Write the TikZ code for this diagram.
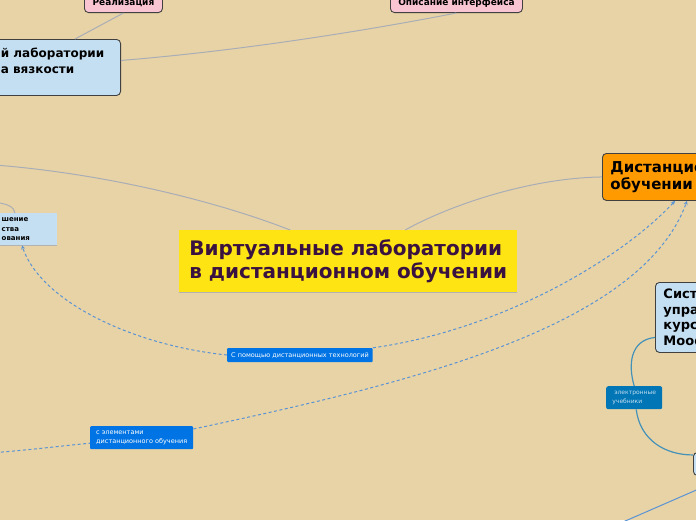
\documentclass[tikz,border=0pt]{standalone}
\usepackage{fontspec}
\setmainfont{DejaVu Sans}
\usetikzlibrary{arrows.meta}

\definecolor{paper}{HTML}{E8D3A7}
\definecolor{topicfill}{HTML}{FFE414}
\definecolor{topictext}{HTML}{3A1240}
\definecolor{paleblue}{HTML}{C5DFF2}
\definecolor{notepink}{HTML}{F9C5D3}
\definecolor{deeporange}{HTML}{FF9A00}
\definecolor{linkgray}{HTML}{A9ADB5}
\definecolor{dashblue}{HTML}{5A93D4}
\definecolor{capblue}{HTML}{0074E4}
\definecolor{tealfill}{HTML}{0076B6}
\definecolor{tealline}{HTML}{4592B8}

\tikzset{
  box/.style={draw=black!75, rounded corners=4pt, line width=0.9pt, align=left},
  link/.style={draw=linkgray, line width=1pt},
  dlink/.style={draw=dashblue, line width=1pt, dash pattern=on 3pt off 2.5pt},
  caption/.style={fill=capblue, text=white, rounded corners=1pt, align=left,
    font=\fontsize{6.5}{9}\selectfont, inner xsep=4pt, inner ysep=3.5pt},
  shadeline/.style={draw=black!30, line width=1pt}
}

\begin{document}
\begin{tikzpicture}[x=1pt,y=-1pt] % mind map
\useasboundingbox (0,0) rectangle (696,520);
\begin{scope}
  \clip (0,0) rectangle (696,520);
  \fill[paper] (0,0) rectangle (696,520);

  % central topic
  \node[anchor=north west, fill=topicfill, text=topictext, align=left, minimum width=338pt,
    minimum height=62pt, font=\bfseries\fontsize{20}{23}\selectfont] (main) at (179,230)
    {Виртуальные лаборатории\\в дистанционном обучении};
  \draw[shadeline] ([yshift=-0.5pt]main.south west) -- ([yshift=-0.5pt]main.south east);

  \node[box, fill=paleblue, anchor=north east, minimum width=136pt, minimum height=56pt,
    font=\bfseries\fontsize{12}{16}\selectfont] (lab) at (121,39)
    {й лаборатории\\а вязкости\\[-7pt]\strut};
  \node[box, fill=notepink, anchor=south west, minimum width=78pt, minimum height=20pt,
    font=\bfseries\fontsize{9}{11}\selectfont] (impl) at (84,13) {Реализация};
  \node[box, fill=notepink, anchor=south west, minimum width=132pt, minimum height=20pt,
    font=\bfseries\fontsize{9}{11}\selectfont] (iface) at (390,13) {Описание интерфейса};

  \node[fill=paleblue, anchor=north east, align=left, minimum width=82pt, minimum height=32pt,
    inner sep=2pt, font=\bfseries\fontsize{7}{9.5}\selectfont] (gain) at (57,213)
    {шение\\ства\\ования};
  \draw[shadeline] ([yshift=-0.5pt]gain.south west) -- ([yshift=-0.5pt]gain.south east);

  \node[box, fill=deeporange, anchor=north west, minimum height=47pt, inner xsep=8pt,
    font=\bfseries\fontsize{15}{17}\selectfont] (dist) at (602,153) {Дистанцио\\обучении};

  \node[box, fill=paleblue, anchor=north west, minimum height=70pt, inner xsep=8pt,
    font=\bfseries\fontsize{13}{15.5}\selectfont] (lms) at (655,282) {Систе\\упра\\курс\\Mood};
  \node[fill=tealfill, text=paleblue, anchor=north west, align=left, rounded corners=2pt,
    minimum width=56pt, minimum height=23pt, font=\fontsize{6}{9}\selectfont] (ebook)
    at (606,386) {\ электронные\\учебники};
  \node[box, fill=paleblue, anchor=north west, minimum width=40pt, minimum height=23pt] (sub)
    at (693,452) {};

  \node[caption, anchor=west, minimum height=14pt] (cap1) at (227,355)
    {С помощью дистанционных технологий};
  \node[caption, anchor=north west, minimum width=103pt, minimum height=23pt] (cap2) at (90,426)
    {с элементами\\дистанционного обучения};

  \coordinate (offa) at (-20,164);
  \coordinate (offb) at (-10,202);
  \coordinate (offc) at (-10,453);
  \coordinate (offd) at (740,471);
  \coordinate (offe) at (600,532);

  % plain links
  \draw[link] (impl.south) -- ([xshift=-46pt]lab.north east);
  \draw[link] (iface.south) .. controls (380,28) and (250,50) .. ([yshift=7pt]lab.east);
  \draw[link] ([xshift=57pt]main.north) .. controls (450,205) and (530,178) .. (dist.west);
  \draw[link] ([xshift=-58pt]main.north) .. controls (200,195) and (80,170) .. (offa);
  \draw[link] (offb) .. controls (8,203) and (14,207) .. ([xshift=-42pt]gain.north east);

  % dashed relations
  \draw[dlink, -{Stealth[length=4pt,width=4pt]}] (cap1.west) .. controls (130,345) and (40,300)
    .. ([xshift=-35pt]gain.south east);
  \draw[dlink, -{Stealth[length=4pt,width=4pt]}] (cap1.north east) .. controls (500,330) and (620,260)
    .. ([xshift=73pt]dist.south west);
  \draw[dlink] (offc) .. controls (30,450) and (60,446) .. ([yshift=-5.5pt]cap2.west);
  \draw[dlink, -{Stealth[length=4pt,width=4pt]}] ([yshift=-3pt]cap2.north east) .. controls (400,385)
    and (640,330) .. ([xshift=85pt]dist.south west);

  % moodle branch
  \draw[tealline, line width=1.2pt] ([yshift=-20pt]lms.west) .. controls (630,340) and (628,365)
    .. (ebook.north);
  \draw[tealline, line width=1.2pt] ([xshift=2pt]ebook.south) .. controls (640,440) and (665,455)
    .. ([yshift=9pt]sub.west);
  \draw[dashblue, line width=1pt] (offd) -- (offe);
\end{scope}
\end{tikzpicture}
\end{document}
